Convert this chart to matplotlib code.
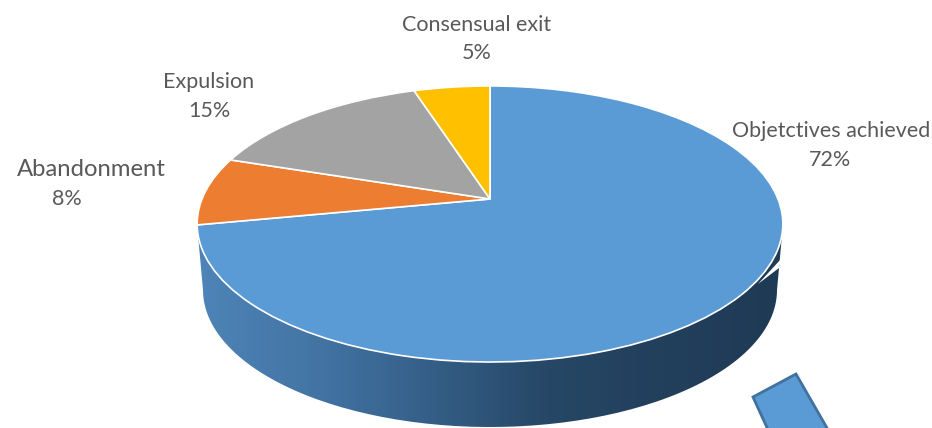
import numpy as np
from matplotlib import pyplot as plt
from matplotlib.colors import LinearSegmentedColormap
from matplotlib.patches import PathPatch, Polygon
from matplotlib.path import Path
from matplotlib.transforms import Transform

labels = ['Objetctives achieved', 'Abandonment', 'Expulsion', 'Consensual exit']
values = [72, 8, 15, 5]
colors = ['#5b9bd5', '#ed7d31', '#a3a3a3', '#ffc000']
label_pos = [(831, 131, 160), (91, 170, 199), (209, 82, 111), (477, 25, 53)]
pct_x = [830, 67, 209, 477]
label_size = [15.5, 17.2, 15.5, 15.5]


class Tilt(Transform):
    """ unit circle -> tilted disc in pixel coords, far side shrinks"""
    input_dims = 2
    output_dims = 2

    def transform_non_affine(self, xy):
        xy = np.asarray(xy)
        w = 1 + 0.181 * xy[:, 1]
        return np.column_stack([490 + 288 * xy[:, 0] / w, 199 - 133.5 * xy[:, 1] / w])


fig = plt.figure(figsize=(9.32, 4.28), dpi=100)
ax = fig.add_axes([0, 0, 1, 1])

# side wall of the disc
t = np.linspace(0, np.pi, 120)
top_x = 490 - 293 * np.cos(t)
top_y = 224 + 138 * np.sin(t)
low_x = 490 - 287 * np.cos(t)
low_y = 290 + 137 * np.sin(t)
wall = np.vstack([np.column_stack([top_x, top_y]), np.column_stack([low_x, low_y])[::-1]])
wall_patch = PathPatch(Path(np.vstack([wall, wall[0]])), fc='none', ec='none')
ax.add_patch(wall_patch)
cmap = LinearSegmentedColormap.from_list('wall', [(0, '#4f84b8'), (0.18, '#4476a6'), (0.35, '#38648f'),
                                                  (0.6, '#264766'), (0.8, '#223f5c'), (1, '#1f3a55')])
img = ax.imshow(np.linspace(0, 1, 300).reshape(1, -1), extent=(197, 783, 428, 224), cmap=cmap,
                aspect='auto', zorder=1)
img.set_clip_path(wall_patch)

# white notch at the right of the wall
ax.add_patch(Polygon([(779, 268), (781, 259), (758, 284)], fc='white', ec='none', zorder=2))

wedges, _ = ax.pie(values, colors=colors, startangle=90, counterclock=False,
                   wedgeprops={'edgecolor': 'white', 'linewidth': 1.2})
for w in wedges:
    w.set_transform(Tilt() + ax.transData)
    w.set_zorder(3)

for name, val, pos, px, fs in zip(labels, values, label_pos, pct_x, label_size):
    ax.text(pos[0], pos[1], name, ha='center', va='center', fontsize=fs, family='Lato', color='#595959')
    ax.text(px, pos[2], '%d%%' % val, ha='center', va='center', fontsize=15.5, family='Lato', color='#595959')

# stray rectangle cut by the bottom of the picture
ax.add_patch(Polygon([(753, 397), (796, 374), (850, 468), (796, 491)], fc='#5b9bd5', ec='#41719c',
                     lw=2, zorder=4))

ax.set_aspect('auto')
ax.set_xlim(0, 932)
ax.set_ylim(428, 0)
ax.axis('off')
fig.savefig('out.png', dpi=100)
